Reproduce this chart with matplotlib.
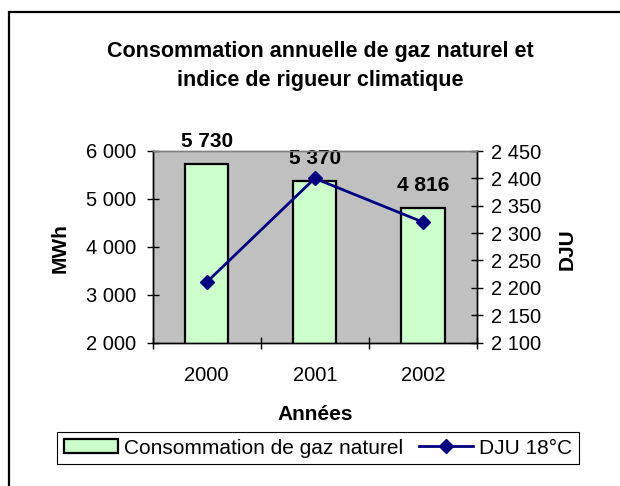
import matplotlib
matplotlib.use('Agg')
import matplotlib.pyplot as plt
from matplotlib.patches import Rectangle

plt.rcParams['font.family'] = ['Liberation Sans', 'DejaVu Sans']

years = ['2000', '2001', '2002']
gas_mwh = [5730, 5370, 4816]
gas_labels = ['5 730', '5 370', '4 816']
dju = [2210, 2400, 2320]
left_ticks = [2000, 3000, 4000, 5000, 6000]
left_ticklabels = ['2 000', '3 000', '4 000', '5 000', '6 000']
right_ticks = [2100, 2150, 2200, 2250, 2300, 2350, 2400, 2450]
right_ticklabels = ['2 100', '2 150', '2 200', '2 250', '2 300', '2 350', '2 400', '2 450']

W, H = 620, 486
fig = plt.figure(figsize=(W / 100, H / 100), dpi=100)

# outer chart frame (cut at right / bottom)
fig.patches.append(Rectangle((8.5 / W, -0.1), 1.2, (1 - 12.5 / H) + 0.1,
                             transform=fig.transFigure, fill=False,
                             edgecolor='black', linewidth=1.6))

L, R, T, B = 152.5, 477, 151, 342.5
ax = fig.add_axes([L / W, 1 - B / H, (R - L) / W, (B - T) / H])
ax.set_facecolor('#C0C0C0')
xpos = list(range(len(years)))
bars = ax.bar(xpos, gas_mwh, width=0.4, color='#CCFFCC', edgecolor='black',
              linewidth=1.6, label='Consommation de gaz naturel', zorder=2)
ax.set_xlim(-0.5, 2.5)
ax.set_ylim(2000, 6000)
ax.set_yticks(left_ticks, left_ticklabels)
ax.set_xticks(xpos, years)
ax.set_xticks([-0.5, 0.5, 1.5, 2.5], minor=True)
ax.tick_params(axis='y', direction='inout', length=8, width=1, pad=8, labelsize=14.5)
ax.tick_params(axis='x', which='major', length=0, pad=17, labelsize=14.5)
ax.tick_params(axis='x', which='minor', direction='inout', length=8, width=1)
for xi, v, lab in zip(xpos, gas_mwh, gas_labels):
    ax.annotate(lab, (xi, v), xytext=(0, 12), textcoords='offset points',
                ha='center', va='baseline', fontsize=15, fontweight='bold',
                annotation_clip=False)
ax.set_xlabel('Années', fontsize=15, fontweight='bold', labelpad=14)
ax.set_ylabel('MWh', fontsize=15, fontweight='bold', va='center')
ax.yaxis.set_label_coords((60 - L) / (R - L), (B - 248) / (B - T))

ax2 = ax.twinx()
ax2.plot(xpos, dju, color='#000080', linewidth=2, marker='D', markersize=7.5,
         label='DJU 18°C')
ax2.set_ylim(2100, 2450)
ax2.set_yticks(right_ticks, right_ticklabels)
ax2.tick_params(axis='y', direction='inout', length=8, width=1, pad=6, labelsize=14.5)
ax2.set_ylabel('DJU', fontsize=15, fontweight='bold', rotation=90, va='center')
ax2.yaxis.set_label_coords((567 - L) / (R - L), (B - 249) / (B - T))

for a in (ax, ax2):
    a.spines['top'].set_color('#808080')
    a.spines['top'].set_linewidth(1)
    for s in ('left', 'right', 'bottom'):
        a.spines[s].set_color('black')
        a.spines[s].set_linewidth(1)

handles = [bars, ax2.get_lines()[0]]
leg = fig.legend(handles, [h.get_label() for h in handles],
                 loc='center', bbox_to_anchor=(318 / W, 1 - 448 / H), ncol=2,
                 fontsize=15, frameon=True, fancybox=False, framealpha=1,
                 edgecolor='black', handlelength=2.6, handleheight=0.63,
                 handletextpad=0.3, columnspacing=0.75, borderpad=0.33,
                 borderaxespad=0)
leg.get_frame().set_linewidth(0.8)

fig.text(320 / W, 1 - 66 / H,
         'Consommation annuelle de gaz naturel et\nindice de rigueur climatique',
         ha='center', va='center', fontsize=15.5, fontweight='bold',
         linespacing=1.45, multialignment='center')

fig.savefig('out.png', dpi=100)
